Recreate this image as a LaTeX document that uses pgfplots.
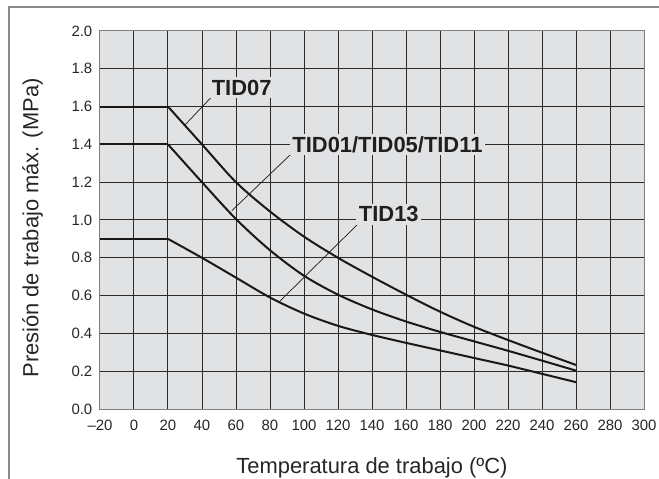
\documentclass[border=0pt]{standalone}
\usepackage{fontspec}
\setmainfont{Liberation Sans}
\usepackage{pgfplots}
\pgfplotsset{compat=1.18}
\definecolor{bg}{HTML}{E1E2E4}
\definecolor{gridc}{HTML}{2A2A2A}
\definecolor{framec}{HTML}{8A8A8A}
\begin{document}
\begin{tikzpicture}
\useasboundingbox (-100bp,-70bp) rectangle (559bp,409bp);
\draw[color=framec, line width=1.3bp] (-91bp,-90bp) -- (-91bp,402bp) -- (580bp,402bp);
\begin{axis}[
  at={(0bp,0bp)}, anchor=south west,
  scale only axis, width=544bp, height=378bp,
  xmin=-20, xmax=300, ymin=0, ymax=2,
  axis background/.style={fill=bg},
  grid=major,
  major grid style={draw=gridc, line width=1bp},
  axis line style={draw=gray, line width=1bp},
  major tick length=0pt,
  xtick={-20,0,20,40,60,80,100,120,140,160,180,200,220,240,260,280,300},
  xticklabels={–20,0,20,40,60,80,100,120,140,160,180,200,220,240,260,280,300},
  ytick={0,0.2,0.4,0.6,0.8,1.0,1.2,1.4,1.6,1.8,2.0},
  yticklabels={0.0,0.2,0.4,0.6,0.8,1.0,1.2,1.4,1.6,1.8,2.0},
  tick label style={font=\fontsize{15}{17}\selectfont, text=black!85},
  xticklabel style={yshift=-7.5bp},
  yticklabel style={xshift=-4.2bp},
  xlabel={Temperatura de trabajo (ºC)},
  ylabel={Presión de trabajo máx. (MPa)},
  xlabel style={at={(axis description cs:0.5,0)}, anchor=base, yshift=-64bp, font=\fontsize{22}{26}\selectfont, text=black!85},
  ylabel style={at={(axis description cs:-0.1134,0.479)}, anchor=base, font=\fontsize{22}{26}\selectfont, text=black!85},
  clip=false,
]
% TID07
\addplot[black!90, line width=2bp] coordinates {(-20,1.6) (20,1.6)};
\addplot[black!90, line width=2bp, smooth] coordinates {
(20,1.6) (40,1.40) (60,1.20) (80,1.045) (100,0.912) (120,0.80) (140,0.70)
(160,0.605) (180,0.515) (200,0.435) (220,0.365) (240,0.298) (260,0.233)};
% TID01/TID05/TID11
\addplot[black!90, line width=2bp] coordinates {(-20,1.4) (20,1.4)};
\addplot[black!90, line width=2bp, smooth] coordinates {
(20,1.4) (40,1.20) (60,1.005) (80,0.84) (100,0.705) (120,0.605) (140,0.527)
(160,0.463) (180,0.408) (200,0.358) (220,0.308) (240,0.256) (260,0.203)};
% TID13
\addplot[black!90, line width=2bp] coordinates {(-20,0.9) (20,0.9)};
\addplot[black!90, line width=2bp, smooth] coordinates {
(20,0.9) (40,0.80) (60,0.695) (80,0.59) (100,0.505) (120,0.44) (140,0.392)
(160,0.35) (180,0.31) (200,0.27) (220,0.23) (240,0.186) (260,0.142)};
% leader lines
\addplot[black!90, line width=0.7bp] coordinates {(45.7,1.652) (30,1.503)};
\addplot[black!90, line width=0.7bp] coordinates {(91.8,1.344) (57.5,1.049)};
\addplot[black!90, line width=0.7bp] coordinates {(132.5,0.986) (84.9,0.562)};
% labels
\node[fill=bg, inner sep=2.5bp, font=\bfseries\fontsize{22}{24}\selectfont, text=black!88] at (axis cs:63.3,1.70) {TID07};
\node[fill=bg, inner sep=2.5bp, font=\bfseries\fontsize{22}{24}\selectfont, text=black!88] at (axis cs:149.1,1.40) {TID01/TID05/TID11};
\node[fill=bg, inner sep=2.5bp, font=\bfseries\fontsize{22}{24}\selectfont, text=black!88] at (axis cs:149.9,1.03) {TID13};
\end{axis}
\end{tikzpicture}
\end{document}
